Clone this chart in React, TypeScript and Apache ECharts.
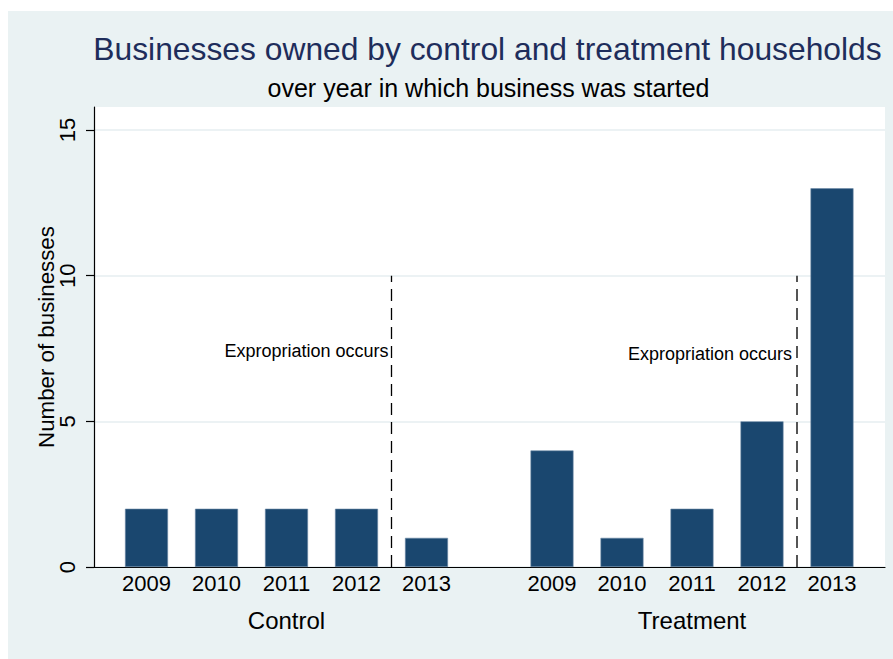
import React, { useEffect, useRef } from 'react';
import * as echarts from 'echarts';

const years = ['2009', '2010', '2011', '2012', '2013'];
const groups = ['Control', 'Treatment'];
const controlValues = [2, 2, 2, 2, 1];
const treatmentValues = [4, 1, 2, 5, 13];
const yTicks = [0, 5, 10, 15];
const yMax = 15.79;
const expropriationYear = '2013';
const expropriationLineTop = 10;
const expropriationLabelLevel = [7.43, 7.32];
const expropriationText = 'Expropriation occurs';
const titleText = 'Businesses owned by control and treatment households';
const subtitleText = 'over year in which business was started';
const yAxisTitle = 'Number of businesses';

const FONT = '"Liberation Sans", Arial, Helvetica, sans-serif';
const NAVY = '#1A476F';

export default function App() {
  const ref = useRef<HTMLDivElement>(null);
  useEffect(() => {
    if (!ref.current) return;
    const chart = echarts.init(ref.current, null, { renderer: 'svg' });
    const expIdx = years.indexOf(expropriationYear) - 0.5;
    const groupValues = [controlValues, treatmentValues];
    const lineStyles = [
      { color: '#000', width: 1.3 },
      { color: '#555', width: 2 },
    ];
    const gridLefts = [111.5, 517];

    const series: any[] = [];
    groupValues.forEach((vals, g) => {
      series.push({
        type: 'bar',
        xAxisIndex: 1 + g,
        yAxisIndex: 1 + g,
        data: vals,
        barWidth: 43,
        itemStyle: { color: NAVY, borderColor: '#6d8aa6', borderWidth: 0.6 },
        silent: true,
      });
      series.push({
        type: 'line',
        xAxisIndex: 3 + g,
        yAxisIndex: 1 + g,
        data: [[expIdx, 0]],
        showSymbol: false,
        symbol: 'none',
        lineStyle: { width: 0, opacity: 0 },
        silent: true,
        markLine: {
          silent: true,
          symbol: 'none',
          label: { show: false },
          lineStyle: { type: [12, 7], color: lineStyles[g].color, width: lineStyles[g].width },
          data: [[{ coord: [expIdx, 0] }, { coord: [expIdx, expropriationLineTop] }]],
        },
        markPoint: {
          silent: true,
          symbol: 'circle',
          symbolSize: 0,
          itemStyle: { color: 'transparent' },
          label: {
            show: true,
            position: 'left',
            distance: g === 0 ? 3 : 5,
            formatter: expropriationText,
            color: '#000',
            fontSize: 18,
            fontFamily: FONT,
          },
          data: [{ coord: [expIdx, expropriationLabelLevel[g]] }],
        },
      });
    });

    const option: any = {
      animation: false,
      backgroundColor: 'transparent',
      graphic: [
        { type: 'rect', z: -10, shape: { x: 8, y: 11, width: 885, height: 648 }, style: { fill: '#EAF2F3' }, silent: true },
        { type: 'text', x: 487.5, y: 49, style: { text: titleText, fill: '#1E2D5B', fontSize: 31.8, fontFamily: FONT, textAlign: 'center', textVerticalAlign: 'middle' } },
        { type: 'text', x: 488.5, y: 88, style: { text: subtitleText, fill: '#000', fontSize: 25, fontFamily: FONT, textAlign: 'center', textVerticalAlign: 'middle' } },
        { type: 'text', x: 46, y: 337, rotation: Math.PI / 2, style: { text: yAxisTitle, fill: '#000', fontSize: 22.3, fontFamily: FONT, textAlign: 'center', textVerticalAlign: 'middle' } },
      ],
      grid: [
        { left: 94, top: 107, width: 791, height: 460, show: true, backgroundColor: '#fff', borderWidth: 0 },
        { left: gridLefts[0], top: 107, width: 350, height: 460 },
        { left: gridLefts[1], top: 107, width: 350, height: 460 },
      ],
      xAxis: [
        {
          gridIndex: 0, type: 'value', min: 0, max: 1,
          axisLine: { show: true, onZero: false, lineStyle: { color: '#000', width: 1.2 } },
          axisTick: { show: false }, axisLabel: { show: false }, splitLine: { show: false },
        },
        ...groups.map((name, g) => ({
          gridIndex: 1 + g, type: 'category', data: years,
          axisLine: { show: false }, axisTick: { show: false },
          axisLabel: { fontSize: 22, color: '#000', margin: 5, fontFamily: FONT },
          name, nameLocation: 'middle', nameGap: 41,
          nameTextStyle: { fontSize: 24, color: '#000', fontFamily: FONT },
        })),
        ...groups.map((_, g) => ({ gridIndex: 1 + g, type: 'value', min: -0.5, max: 4.5, show: false })),
      ],
      yAxis: [
        {
          gridIndex: 0, type: 'value', min: 0, max: yMax, interval: 5,
          axisLine: { show: true, lineStyle: { color: '#000', width: 1.2 } },
          axisTick: { show: true, length: 8, customValues: yTicks, lineStyle: { color: '#000', width: 1.2 } },
          axisLabel: { customValues: yTicks, rotate: 90, fontSize: 22, margin: 16, color: '#000', fontFamily: FONT },
          splitLine: { show: true, lineStyle: { color: '#E6EEF0', width: 1.5 } },
        },
        ...groups.map((_, g) => ({ gridIndex: 1 + g, type: 'value', min: 0, max: yMax, show: false })),
      ],
      series,
    };
    chart.setOption(option);
    return () => chart.dispose();
  }, []);
  return (
    <div
      ref={ref}
      style={{ position: 'absolute', left: 0, top: 0, width: 893, height: 659, background: '#fff' }}
    />
  );
}
